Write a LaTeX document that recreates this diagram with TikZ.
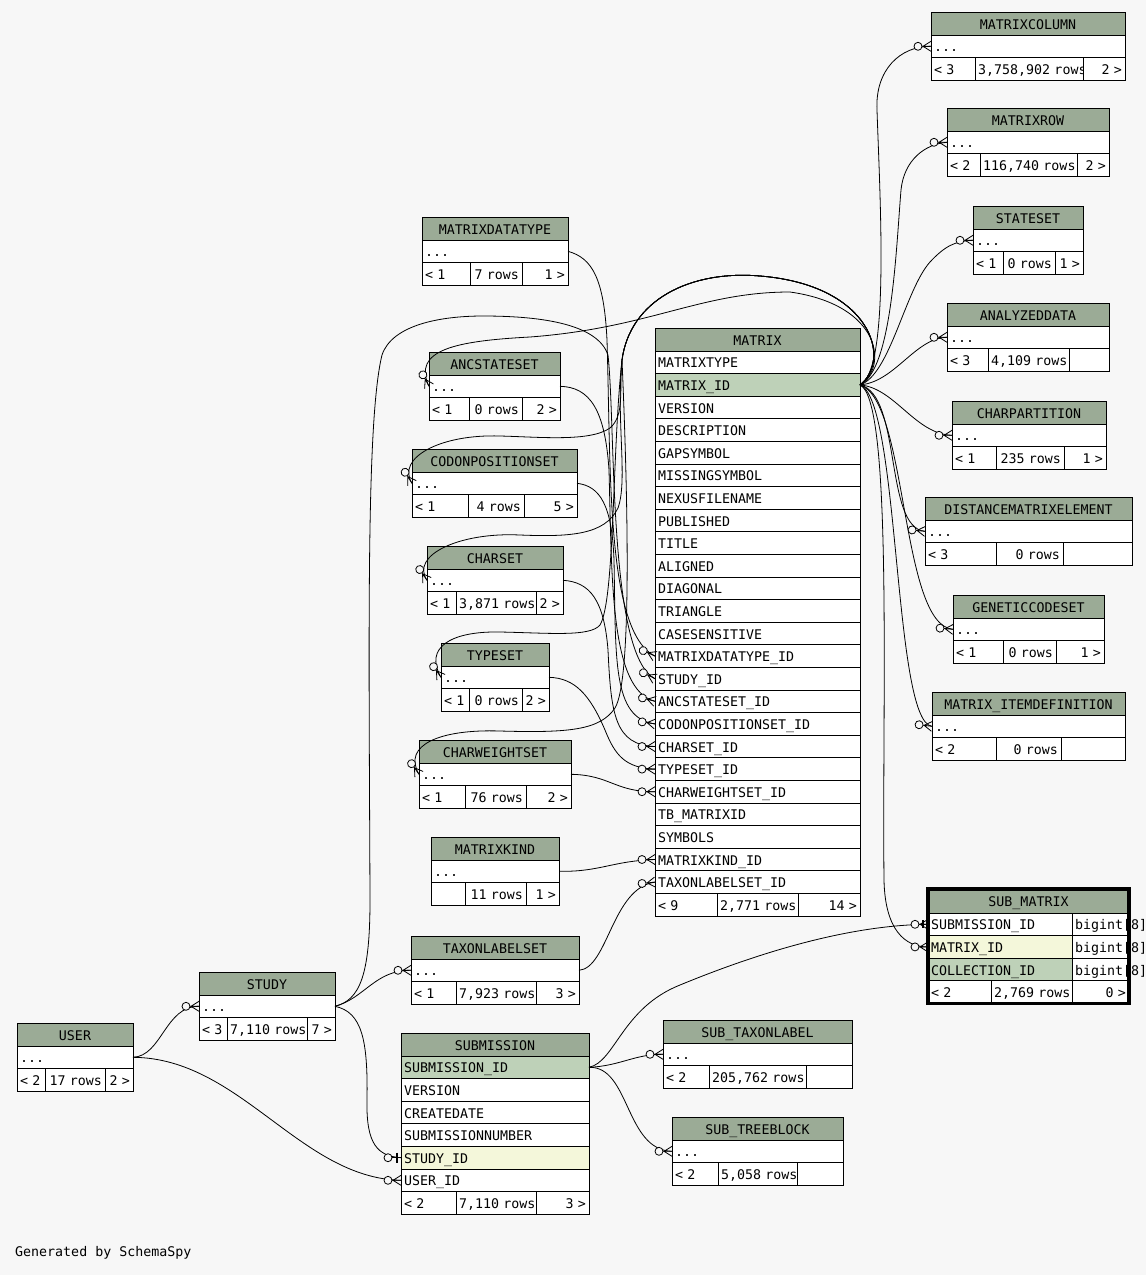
\documentclass[tikz,border=0pt]{standalone}
\usepackage{fontspec}
\newfontfamily\dbfont{DejaVu Sans Mono}
\usetikzlibrary{positioning}
\definecolor{bggray}{HTML}{F7F7F7}
\definecolor{hdrgreen}{HTML}{9BAB96}
\definecolor{keygreen}{HTML}{BED1B8}
\definecolor{idxyellow}{HTML}{F4F7DA}
\tikzset{
  cell/.style={draw, rectangle, fill=white, line width=1pt, outer sep=0pt,
    inner xsep=3pt, inner ysep=0pt, minimum height=22.6pt,
    text height=12pt, text depth=1pt, align=left,
    /utils/exec={\pgfmathsetlengthmacro\celltw{#1-6pt}}, text width=\celltw,
    font=\dbfont\fontsize{13.3}{15}\selectfont},
  hdr/.style={cell=#1, fill=hdrgreen, align=center, minimum height=23pt},
  mrow/.style={cell=205, below=0pt of #1},
  srow/.style={cell=188, below=0pt of #1},
  link/.style={draw, line width=0.8pt},
  crow/.pic={\draw[line width=0.8pt] (0,0) -- (-13,0) (0,-5) -- (-8,0) -- (0,5);
    \draw[line width=0.8pt, fill=bggray] (-13,0) circle (4pt);},
  onebar/.pic={\draw[line width=0.8pt] (0,0) -- (-13,0);
    \draw[line width=2.5pt] (-4,-5) -- (-4,5);
    \draw[line width=0.8pt, fill=bggray] (-13,0) circle (4pt);},
  crowbar/.pic={\draw[line width=0.8pt] (0,0) -- (-13,0) (0,-5) -- (-8,0) -- (0,5);
    \draw[line width=2.5pt] (-5,-4) -- (-5,4);
    \draw[line width=0.8pt, fill=bggray] (-13,0) circle (4pt);}
}
% name, title, (x,y), width, left width, middle width, left, middle, right
\newcommand{\dbtable}[9]{%
  \node[hdr=#4, anchor=north west] (#1) at #3 {#2};
  \node[cell=#4, below=0pt of #1] (#1-dots) {...};
  \node[cell=#5, anchor=north west] (#1-l) at (#1-dots.south west) {\mbox{#7}};
  \node[cell=#6, right=0pt of #1-l, align=right] (#1-m) {\mbox{#8}};
  \node[cell=#4-#5-#6, right=0pt of #1-m, align=right] (#1-r) {\mbox{#9}};
}

\begin{document}
\begin{tikzpicture}[x=1pt, y=-1pt]
\fill[bggray] (0,0) rectangle (1146,1275);
\useasboundingbox (0,0) rectangle (1146,1275);

% MATRIX
\node[hdr=205, anchor=north west] (mtx) at (655,328) {MATRIX};
\node[mrow=mtx] (mtx-type) {MATRIXTYPE};
\node[mrow=mtx-type, fill=keygreen] (mtx-id) {MATRIX\_ID};
\node[mrow=mtx-id] (mtx-ver) {VERSION};
\node[mrow=mtx-ver] (mtx-desc) {DESCRIPTION};
\node[mrow=mtx-desc] (mtx-gap) {GAPSYMBOL};
\node[mrow=mtx-gap] (mtx-miss) {MISSINGSYMBOL};
\node[mrow=mtx-miss] (mtx-nexus) {NEXUSFILENAME};
\node[mrow=mtx-nexus] (mtx-pub) {PUBLISHED};
\node[mrow=mtx-pub] (mtx-title) {TITLE};
\node[mrow=mtx-title] (mtx-align) {ALIGNED};
\node[mrow=mtx-align] (mtx-diag) {DIAGONAL};
\node[mrow=mtx-diag] (mtx-tri) {TRIANGLE};
\node[mrow=mtx-tri] (mtx-case) {CASESENSITIVE};
\node[mrow=mtx-case] (mtx-dtype) {MATRIXDATATYPE\_ID};
\node[mrow=mtx-dtype] (mtx-study) {STUDY\_ID};
\node[mrow=mtx-study] (mtx-anc) {ANCSTATESET\_ID};
\node[mrow=mtx-anc] (mtx-codon) {CODONPOSITIONSET\_ID};
\node[mrow=mtx-codon] (mtx-cset) {CHARSET\_ID};
\node[mrow=mtx-cset] (mtx-tset) {TYPESET\_ID};
\node[mrow=mtx-tset] (mtx-cws) {CHARWEIGHTSET\_ID};
\node[mrow=mtx-cws] (mtx-tb) {TB\_MATRIXID};
\node[mrow=mtx-tb] (mtx-sym) {SYMBOLS};
\node[mrow=mtx-sym] (mtx-mkind) {MATRIXKIND\_ID};
\node[mrow=mtx-mkind] (mtx-tls) {TAXONLABELSET\_ID};
\node[cell=62, anchor=north west] (mtx-l) at (mtx-tls.south west) {< 9};
\node[cell=81, right=0pt of mtx-l, align=right] (mtx-m) {\mbox{2,771 rows}};
\node[cell=62, right=0pt of mtx-m, align=right] (mtx-r) {14 >};

% SUBMISSION
\node[hdr=188, anchor=north west] (subm) at (401,1033) {SUBMISSION};
\node[srow=subm, fill=keygreen] (subm-id) {SUBMISSION\_ID};
\node[srow=subm-id] (subm-ver) {VERSION};
\node[srow=subm-ver] (subm-date) {CREATEDATE};
\node[srow=subm-date] (subm-num) {SUBMISSIONNUMBER};
\node[srow=subm-num, fill=idxyellow] (subm-study) {STUDY\_ID};
\node[srow=subm-study] (subm-user) {USER\_ID};
\node[cell=55, anchor=north west] (subm-l) at (subm-user.south west) {< 2};
\node[cell=80, right=0pt of subm-l, align=right] (subm-m) {\mbox{7,110 rows}};
\node[cell=53, right=0pt of subm-m, align=right] (subm-r) {3 >};

% SUB_MATRIX
\node[hdr=201, anchor=north west, minimum height=24pt] (smx) at (928,889) {SUB\_MATRIX};
\node[cell=144, anchor=north west] (smx-sid) at (smx.south west) {SUBMISSION\_ID};
\node[cell=57, right=0pt of smx-sid] (smx-sidt) {\mbox{bigint[8]}};
\node[cell=144, below=0pt of smx-sid, fill=idxyellow] (smx-mid) {MATRIX\_ID};
\node[cell=57, right=0pt of smx-mid] (smx-midt) {\mbox{bigint[8]}};
\node[cell=144, below=0pt of smx-mid, fill=keygreen] (smx-cid) {COLLECTION\_ID};
\node[cell=57, right=0pt of smx-cid] (smx-cidt) {\mbox{bigint[8]}};
\node[cell=63, anchor=north west] (smx-l) at (smx-cid.south west) {< 2};
\node[cell=81, right=0pt of smx-l, align=right] (smx-m) {\mbox{2,769 rows}};
\node[cell=57, right=0pt of smx-m, align=right] (smx-r) {0 >};
\draw[line width=3.5pt] (smx.north west) rectangle (smx-r.south east);

% small tables
\dbtable{mcol}{MATRIXCOLUMN}{(931,12)}{194}{44}{108}{< 3}{3,758,902 rows}{2 >}
\dbtable{mrw}{MATRIXROW}{(947,108)}{162}{33}{97}{< 2}{116,740 rows}{2 >}
\dbtable{sset}{STATESET}{(973,206)}{110}{30}{52}{< 1}{0 rows}{1 >}
\dbtable{adata}{ANALYZEDDATA}{(947,303)}{162}{41}{81}{< 3}{4,109 rows}{}
\dbtable{cpart}{CHARPARTITION}{(952,401)}{154}{44}{68}{< 1}{235 rows}{1 >}
\dbtable{dme}{DISTANCEMATRIXELEMENT}{(925,497)}{207}{71}{67}{< 3}{0 rows}{}
\dbtable{gcode}{GENETICCODESET}{(953,595)}{151}{50}{53}{< 1}{0 rows}{1 >}
\dbtable{midef}{MATRIX\_ITEMDEFINITION}{(932,692)}{193}{64}{65}{< 2}{0 rows}{}
\dbtable{mdtype}{MATRIXDATATYPE}{(422,217)}{146}{48}{52}{< 1}{7 rows}{1 >}
\dbtable{anc}{ANCSTATESET}{(429,352)}{131}{40}{53}{< 1}{0 rows}{2 >}
\dbtable{codon}{CODONPOSITIONSET}{(412,449)}{165}{56}{56}{< 1}{4 rows}{5 >}
\dbtable{cset}{CHARSET}{(427,546)}{136}{29}{80}{< 1}{3,871 rows}{2 >}
\dbtable{tset}{TYPESET}{(441,643)}{108}{28}{53}{< 1}{0 rows}{2 >}
\dbtable{cws}{CHARWEIGHTSET}{(419,740)}{152}{46}{61}{< 1}{76 rows}{2 >}
\dbtable{mkind}{MATRIXKIND}{(431,837)}{128}{34}{61}{}{11 rows}{1 >}
\dbtable{tls}{TAXONLABELSET}{(411,936)}{168}{45}{80}{< 1}{7,923 rows}{3 >}
\dbtable{subtax}{SUB\_TAXONLABEL}{(663,1020)}{189}{46}{97}{< 2}{205,762 rows}{}
\dbtable{subtree}{SUB\_TREEBLOCK}{(672,1117)}{171}{46}{79}{< 2}{5,058 rows}{}
\dbtable{study}{STUDY}{(199,972)}{136}{28}{80}{< 3}{7,110 rows}{7 >}
\dbtable{user}{USER}{(17,1023)}{116}{28}{60}{< 2}{17 rows}{2 >}

\node[font=\dbfont\fontsize{13.3}{15}\selectfont, anchor=base west, inner sep=0pt] (credit) at (15,1256) {Generated by SchemaSpy};

% parents of MATRIX
\path[link] (mdtype-dots.east) .. controls (592,258) and (604,278) .. (607,340) .. controls (611,470) and (606,632) .. (mtx-dtype.west);
\path[link] (study-dots.east) .. controls (360,1000) and (370,975) .. (370,900) .. controls (369,640) and (366,420) .. (382,355) .. controls (392,325) and (440,316) .. (483,316) .. controls (545,316) and (598,325) .. (608,355) .. controls (616,430) and (608,655) .. (mtx-study.west);
\path[link] (anc-dots.east) .. controls (590,387) and (605,410) .. (609,470) .. controls (612,580) and (610,690) .. (mtx-anc.west);
\path[link] (codon-dots.east) .. controls (600,486) and (612,505) .. (614,560) .. controls (616,660) and (612,718) .. (mtx-codon.west);
\path[link] (cset-dots.east) .. controls (590,582) and (604,600) .. (608,650) .. controls (611,715) and (615,745) .. (mtx-cset.west);
\path[link] (tset-dots.east) .. controls (575,678) and (590,695) .. (605,730) .. controls (615,755) and (625,768) .. (mtx-tset.west);
\path[link] (cws-dots.east) .. controls (610,775) and (615,792) .. (mtx-cws.west);
\path[link] (mkind-dots.east) .. controls (600,872) and (612,861) .. (mtx-mkind.west);
\path[link] (tls-dots.east) .. controls (608,968) and (612,888) .. (mtx-tls.west);

% MATRIX_ID to the tables on the left
\path[link] (mtx-id.east) .. controls (888,368) and (882,305) .. (790,292) .. controls (700,292) and (650,328) .. (530,337) .. controls (455,341) and (412,350) .. (anc-dots.west);
\path[link] (mtx-id.east) .. controls (892,360) and (872,285) .. (760,276) .. controls (690,270) and (630,300) .. (622,360) .. controls (619,390) and (625,415) .. (610,428) .. controls (590,442) and (540,437) .. (500,436) .. controls (440,434) and (396,458) .. (codon-dots.west);
\path[link] (mtx-id.east) .. controls (892,360) and (872,285) .. (760,276) .. controls (690,270) and (630,300) .. (622,360) .. controls (616,420) and (628,480) .. (618,508) .. controls (605,535) and (570,537) .. (520,535) .. controls (460,532) and (410,555) .. (cset-dots.west);
\path[link] (mtx-id.east) .. controls (892,360) and (872,285) .. (760,276) .. controls (690,270) and (630,300) .. (622,360) .. controls (612,450) and (615,600) .. (600,625) .. controls (590,637) and (550,633) .. (500,632) .. controls (450,631) and (424,648) .. (tset-dots.west);
\path[link] (mtx-id.east) .. controls (892,360) and (872,285) .. (760,276) .. controls (690,270) and (630,300) .. (622,360) .. controls (628,500) and (632,680) .. (615,708) .. controls (600,730) and (570,733) .. (500,731) .. controls (440,729) and (402,745) .. (cws-dots.west);

% MATRIX_ID to the tables on the right
\path[link] (mtx-id.east) .. controls (890,370) and (880,200) .. (877,110) .. controls (875,70) and (900,46) .. (mcol-dots.west);
\path[link] (mtx-id.east) .. controls (892,370) and (896,250) .. (901,190) .. controls (904,160) and (925,144) .. (mrw-dots.west);
\path[link] (mtx-id.east) .. controls (890,375) and (905,290) .. (930,262) .. controls (945,246) and (955,241) .. (sset-dots.west);
\path[link] (mtx-id.east) .. controls (895,382) and (915,338) .. (adata-dots.west);
\path[link] (mtx-id.east) .. controls (895,388) and (915,434) .. (cpart-dots.west);
\path[link] (mtx-id.east) .. controls (902,395) and (884,528) .. (dme-dots.west);
\path[link] (mtx-id.east) .. controls (908,400) and (900,625) .. (gcode-dots.west);
\path[link] (mtx-id.east) .. controls (900,400) and (893,722) .. (midef-dots.west);
\path[link] (mtx-id.east) .. controls (893,400) and (882,700) .. (884,880) .. controls (885,930) and (905,947) .. (smx-mid.west);

% SUBMISSION, STUDY, USER
\path[link] (subm-id.east) .. controls (615,1062) and (622,1008) .. (680,985) .. controls (760,952) and (850,925) .. (smx-sid.west);
\path[link] (subm-id.east) .. controls (620,1066) and (635,1054) .. (subtax-dots.west);
\path[link] (subm-id.east) .. controls (630,1066) and (625,1150) .. (subtree-dots.west);
\path[link] (study-dots.east) .. controls (365,998) and (375,970) .. (tls-dots.west);
\path[link] (study-dots.east) .. controls (362,1012) and (368,1040) .. (367,1100) .. controls (366,1145) and (378,1156) .. (subm-study.west);
\path[link] (user-dots.east) .. controls (162,1056) and (165,1006) .. (study-dots.west);
\path[link] (user-dots.east) .. controls (240,1058) and (300,1178) .. (subm-user.west);

% crow's feet
\pic[rotate=-25] at (mtx-dtype.west) {crow};
\pic[rotate=-27] at (mtx-study.west) {crow};
\pic[rotate=-15] at (mtx-anc.west) {crow};
\pic[rotate=-9] at (mtx-codon.west) {crow};
\pic at (mtx-cset.west) {crow};
\pic at (mtx-tset.west) {crow};
\pic at (mtx-cws.west) {crow};
\pic at (mtx-mkind.west) {crow};
\pic[rotate=6] at (mtx-tls.west) {crow};
\pic[rotate=-62] at (anc-dots.west) {crow};
\pic[rotate=-58] at (codon-dots.west) {crow};
\pic[rotate=-56] at (cset-dots.west) {crow};
\pic[rotate=-55] at (tset-dots.west) {crow};
\pic[rotate=-55] at (cws-dots.west) {crow};
\pic at (mcol-dots.west) {crow};
\pic at (mrw-dots.west) {crow};
\pic at (sset-dots.west) {crow};
\pic at (adata-dots.west) {crow};
\pic at (cpart-dots.west) {crow};
\pic[rotate=-6] at (dme-dots.west) {crow};
\pic[rotate=-5] at (gcode-dots.west) {crow};
\pic[rotate=-7] at (midef-dots.west) {crow};
\pic at (smx-mid.west) {crow};
\pic at (smx-sid.west) {crowbar};
\pic at (tls-dots.west) {crow};
\pic at (study-dots.west) {crow};
\pic at (subm-study.west) {onebar};
\pic at (subm-user.west) {crow};
\pic at (subtax-dots.west) {crow};
\pic at (subtree-dots.west) {crow};
\end{tikzpicture}
\end{document}
